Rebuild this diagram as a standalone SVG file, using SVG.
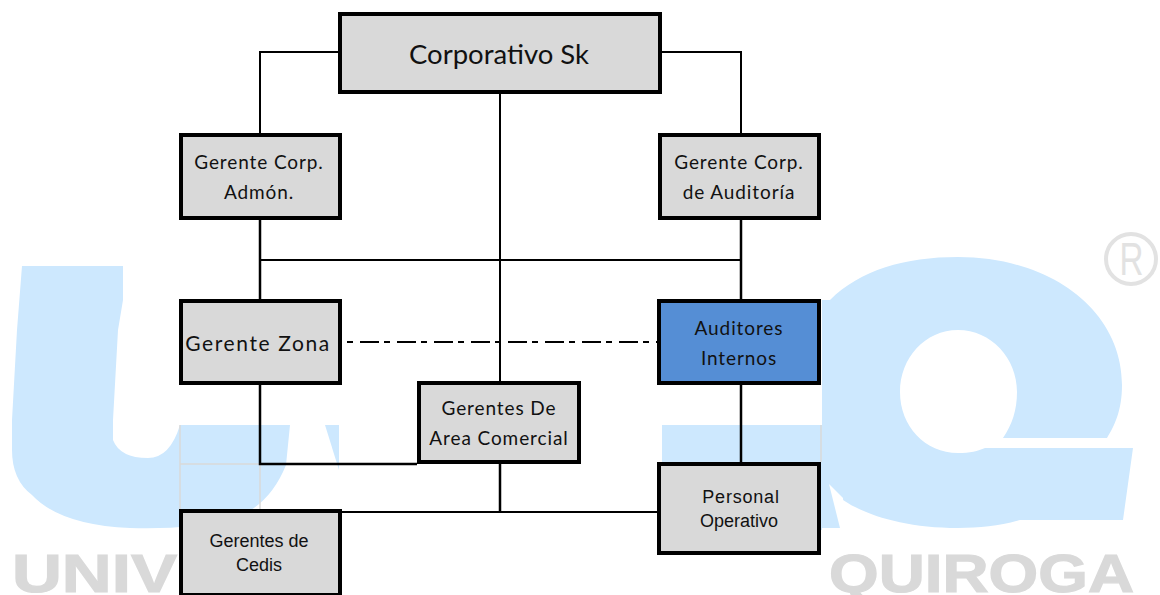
<svg xmlns="http://www.w3.org/2000/svg" width="1160" height="595" viewBox="0 0 1160 595">
<style>
.wm{fill:#cde8fe}
.wt{fill:#d9d9d9;stroke:#d9d9d9;stroke-width:1.2;font-family:"Liberation Sans",Arial,sans-serif;font-weight:700;font-size:54px}
.gl{fill:none;stroke:#d9d9d9;stroke-width:1.5}
.box{fill:#d9d9d9;stroke:#000;stroke-width:4}
.blue{fill:#558ed5}
.c{fill:none;stroke:#000;stroke-width:2}
.c3{fill:none;stroke:#000;stroke-width:2.5}
text.n{font-family:Lato,"Open Sans",sans-serif;font-size:19px;letter-spacing:.9px;fill:#111;text-anchor:middle}
text.a{font-family:"Liberation Sans",Arial,sans-serif;font-size:18px;fill:#111;text-anchor:middle}
</style>
<defs><clipPath id="qc"><rect x="822" y="240" width="338" height="300"/></clipPath></defs>
<g id="watermark">
<path class="wm" d="M22 266H123V300L118 330L113 420V440Q120 458 148 458Q170 458 180 425H290L286 465Q270 505 235 518Q190 530 130 528Q60 525 32 495Q12 480 12 450V420L17 330Z"/>
<path class="wm" d="M325 425H339V470Z"/>
<rect class="wm" x="662" y="425" width="160" height="105"/>
<g clip-path="url(#qc)">
<path class="wm" fill-rule="evenodd" d="M958 257C1050 257 1122 310 1122 385C1122 410 1115 425 1107 438H1003C1012 425 1017 410 1017 392C1017 358 991 330 958 330C925 330 900 358 900 392C900 426 925 453 958 453C970 453 978 451 985 448H1133L1123 520H1020C1000 526 980 528 958 528C905 528 865 515 843 500L843 528H790V300H830C860 270 905 257 958 257Z"/>
</g>
<path d="M829 484L843 498L845 528H840Z" fill="#fff"/>
<text class="wt" x="12" y="592" textLength="165" lengthAdjust="spacingAndGlyphs">UNIV</text>
<text class="wt" x="829" y="592" textLength="305" lengthAdjust="spacingAndGlyphs">QUIROGA</text>
<text x="1131.500" y="275" font-family="Liberation Sans,Arial,sans-serif" font-size="46" fill="#e2e2e2" text-anchor="middle" textLength="24" lengthAdjust="spacingAndGlyphs">R</text>
<circle cx="1131" cy="259" r="25" fill="none" stroke="#e2e2e2" stroke-width="4"/>
<path class="gl" d="M180 425V510M180 464H417M260 464V510M821 425V462"/>
</g>
<g id="connectors">
<path class="c" d="M340 52H260V133M660 52H741V133M500 94V381M260 260H741M342 512H658"/>
<path class="c3" d="M260 220V300M741 220V300M741 385V462M260 385V464H417M500 464V512"/>
<path class="c" d="M347 342H657" stroke-dasharray="6 7 19 5"/>
</g>
<g id="corporativo"><rect class="box" x="340" y="14" width="320" height="78"/><text class="n" x="499" y="64" style="font-size:27.500px;letter-spacing:0">Corporativo Sk</text></g>
<g id="gerente-admon"><rect class="box" x="181" y="135" width="159" height="83"/><text class="n" x="259" y="169">Gerente Corp.</text><text class="n" x="259" y="199">Admón.</text></g>
<g id="gerente-auditoria"><rect class="box" x="660" y="135" width="159" height="83"/><text class="n" x="739" y="169">Gerente Corp.</text><text class="n" x="739" y="199">de Auditoría</text></g>
<g id="gerente-zona"><rect class="box" x="181" y="301" width="159" height="82"/><text class="n" x="258" y="351" style="font-size:21px;letter-spacing:1.6px">Gerente Zona</text></g>
<g id="auditores"><rect class="box blue" x="659" y="301" width="160" height="82"/><text class="n" x="739" y="335">Auditores</text><text class="n" x="739" y="365">Internos</text></g>
<g id="comercial"><rect class="box" x="419" y="383" width="160" height="79"/><text class="n" x="499" y="415">Gerentes De</text><text class="n" x="499" y="445">Area Comercial</text></g>
<g id="personal"><rect class="box" x="659" y="464" width="160" height="89"/><text class="a" x="741" y="503" style="letter-spacing:.8px">Personal</text><text class="a" x="739" y="527">Operativo</text></g>
<g id="cedis"><rect class="box" x="181" y="511" width="159" height="84"/><text class="a" x="259" y="547">Gerentes de</text><text class="a" x="259" y="571">Cedis</text></g>
</svg>
